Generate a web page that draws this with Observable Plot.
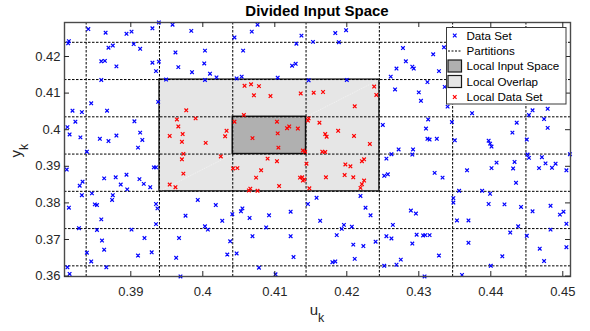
<!DOCTYPE html>
<html><head><meta charset="utf-8">
<script src="https://cdn.jsdelivr.net/npm/d3@7"></script>
<script src="https://cdn.jsdelivr.net/npm/@observablehq/plot@0.6"></script>
<style>
html,body{margin:0;padding:0;background:#fff;}
#chart{width:590px;height:331px;}
</style></head><body><div id="chart"></div>
<script>
const titleText = "Divided Input Space";
const xLabel = ["u", "k"];
const yLabel = ["y", "k"];
const legendLabels = ["Data Set", "Partitions", "Local Input Space", "Local Overlap", "Local Data Set"];

const xTicks = [0.39, 0.40, 0.41, 0.42, 0.43, 0.44, 0.45];
const xTickLabels = ["0.39", "0.4", "0.41", "0.42", "0.43", "0.44", "0.45"];
const yTicks = [0.36, 0.37, 0.38, 0.39, 0.40, 0.41, 0.42];
const yTickLabels = ["0.36", "0.37", "0.38", "0.39", "0.4", "0.41", "0.42"];
const xDomain = [0.38079, 0.45107];
const yDomain = [0.35989, 0.42929];

const partitionsU = [0.3838, 0.39398, 0.40416, 0.41434, 0.42452, 0.4347, 0.44488];
const partitionsY = [0.3628, 0.37298, 0.38316, 0.39334, 0.40352, 0.4137, 0.42388];
// indices into the partition arrays
const localInputSpace = {u: [2, 3], y: [3, 4]};
const localOverlap = {u: [1, 4], y: [2, 5]};

const dataSetU = [0.3841,0.3865,0.3894,0.3901,0.3930,0.3939,0.3958,0.3984,0.3814,0.3813,0.3875,0.3869,0.3904,0.3913,0.3962,0.3859,0.3864,0.3880,0.3930,0.3939,0.3966,0.3935,0.3985,0.3859,0.3949,0.3845,0.3938,0.3819,0.3832,0.3867,0.3823,0.3812,0.3905,0.3815,0.3830,0.3857,0.3869,0.3880,0.3913,0.3916,0.3910,
0.4044,0.4068,0.4076,0.4137,0.4130,0.4153,0.4003,0.4056,0.4002,0.4010,0.4019,0.4003,0.4054,0.4047,0.4104,0.4129,0.4124,0.4147,
0.4184,0.4199,0.4189,0.4278,0.4335,0.4320,0.4282,0.4269,0.4291,0.4293,0.4328,0.4261,0.4200,0.4312,0.4336,0.4267,0.4300,0.4303,0.4340,0.4313,0.4250,0.4310,0.4312,0.4315,0.4325,0.4272,0.4292,
0.4374,0.4458,0.4453,0.4479,0.4474,0.4436,0.4346,0.4430,0.4479,0.4350,0.4397,0.4399,0.4401,0.4450,
0.3839,0.3811,0.3833,0.3829,0.3863,0.3879,0.3894,0.3886,0.3895,0.3912,0.3918,0.3927,0.3932,0.3935,0.3832,0.3846,0.3875,0.3874,0.3850,0.3853,0.3814,0.3935,0.3937,0.3976,0.3859,0.3828,0.3853,0.3901,0.3935,0.3919,0.3967,0.3860,0.3863,0.3839,0.3910,0.3929,0.3963,0.3845,0.3812,0.3866,0.3815,0.3969,
0.3993,0.4018,0.4027,0.4003,0.4007,0.4041,0.4055,0.4053,0.4065,0.4092,0.4122,0.4088,0.4069,0.4038,0.4122,0.4034,0.4047,0.4126,0.4078,0.4101,0.4146,0.4158,0.4163,
0.4262,0.4291,0.4255,0.4252,0.4257,0.4322,0.4333,0.4219,0.4226,0.4233,0.4289,0.4296,0.4196,0.4193,0.4207,0.4264,0.4186,0.4255,0.4262,0.4297,0.4306,0.4309,0.4315,0.4240,0.4291,0.4209,0.4223,0.4211,0.4180,0.4184,0.4275,0.4269,0.4252,0.4328,0.4308,
0.4451,0.4453,0.4471,0.4476,0.4490,0.4510,0.4505,0.4485,0.4467,0.4433,0.4408,0.4401,0.4431,0.4367,0.4435,0.4356,0.4388,0.4399,0.4348,0.4348,0.4397,0.4419,0.4442,0.4458,0.4483,0.4501,0.4496,0.4505,0.4353,0.4369,0.4438,0.4427,0.4483,0.4450,0.4369,0.4468,0.4505,0.4416,0.4474,0.4400,0.4360];
const dataSetY = [0.4275,0.4265,0.4262,0.4268,0.4277,0.4293,0.4287,0.4270,0.4242,0.4236,0.4230,0.4224,0.4234,0.4221,0.4211,0.4187,0.4188,0.4173,0.4183,0.4186,0.4171,0.4160,0.4157,0.4136,0.4137,0.4072,0.4076,0.4052,0.4048,0.4052,0.4022,0.4007,0.4023,0.3987,0.3979,0.3975,0.3969,0.3984,0.3992,0.3972,0.3951,
0.4252,0.4268,0.4287,0.4257,0.4235,0.4240,0.4216,0.4216,0.4181,0.4153,0.4143,0.4136,0.4145,0.4140,0.4142,0.4180,0.4175,0.4135,
0.4264,0.4272,0.4239,0.4223,0.4225,0.4206,0.4187,0.4167,0.4172,0.4167,0.4160,0.4145,0.4136,0.4130,0.4117,0.4110,0.4102,0.4079,0.4063,0.4028,0.4013,0.4003,0.3975,0.3973,0.3975,0.3946,0.3946,
0.4045,0.4053,0.4040,0.4057,0.4029,0.4019,0.4021,0.3992,0.4005,0.3971,0.3970,0.3962,0.3954,0.3973,
0.3940,0.3891,0.3858,0.3847,0.3867,0.3870,0.3877,0.3850,0.3837,0.3865,0.3852,0.3843,0.3897,0.3897,0.3821,0.3826,0.3821,0.3808,0.3796,0.3794,0.3787,0.3797,0.3785,0.3765,0.3755,0.3731,0.3726,0.3727,0.3742,0.3704,0.3704,0.3697,0.3672,0.3664,0.3656,0.3665,0.3650,0.3640,0.3624,0.3624,0.3606,0.3599,
0.3808,0.3794,0.3751,0.3736,0.3727,0.3769,0.3785,0.3777,0.3759,0.3766,0.3776,0.3733,0.3709,0.3695,0.3709,0.3659,0.3662,0.3652,0.3623,0.3605,0.3797,0.3814,0.3751,
0.3933,0.3932,0.3921,0.3874,0.3878,0.3882,0.3869,0.3819,0.3787,0.3766,0.3779,0.3771,0.3740,0.3729,0.3735,0.3740,0.3712,0.3709,0.3703,0.3713,0.3711,0.3712,0.3712,0.3694,0.3689,0.3686,0.3682,0.3647,0.3638,0.3640,0.3645,0.3631,0.3628,0.3656,0.3599,
0.3932,0.3923,0.3925,0.3908,0.3907,0.3933,0.3889,0.3896,0.3895,0.3912,0.3910,0.3895,0.3894,0.3889,0.3855,0.3833,0.3833,0.3825,0.3813,0.3801,0.3797,0.3796,0.3789,0.3777,0.3792,0.3776,0.3768,0.3743,0.3752,0.3752,0.3736,0.3719,0.3727,0.3710,0.3691,0.3675,0.3679,0.3654,0.3641,0.3628,0.3603];

const localDataU = [0.3977,0.3964,0.3990,0.3966,0.3954,0.3972,0.3971,0.4004,0.4033,0.4031,0.3973,0.3971,0.4025,0.3973,0.3954,0.3962,
0.4058,0.4067,0.4078,0.4071,0.4094,0.4136,0.4154,0.4057,0.4044,0.4103,0.4104,0.4069,0.4117,0.4120,0.4132,0.4147,0.4146,0.4162,0.4105,0.4139,0.4142,
0.4042,0.4048,0.4090,0.4103,0.4144,0.4081,0.4074,0.4135,0.4138,0.4141,0.4139,0.4106,0.4148,0.4066,0.4064,0.4076,
0.4166,0.4170,0.4198,0.4205,0.4221,0.4224,0.4171,0.4197,0.4209,0.4224,0.4221,0.4219,
0.4167,0.4238,0.4241,0.4211,0.4188,0.4170,0.4172,0.4210,0.4232];
const localDataY = [0.4053,0.4028,0.4031,0.4009,0.3983,0.3988,0.3967,0.3964,0.3997,0.3982,0.3934,0.3919,0.3927,0.3880,0.3850,0.3843,
0.4120,0.4124,0.4119,0.4094,0.4092,0.4099,0.4101,0.4040,0.4022,0.4022,0.3990,0.3977,0.4004,0.4009,0.4003,0.4031,0.4025,0.4019,0.3951,0.3943,0.3940,
0.3894,0.3895,0.3921,0.3914,0.3907,0.3889,0.3869,0.3869,0.3870,0.3864,0.3861,0.3846,0.3840,0.3839,0.3834,0.3833,
0.3940,0.3939,0.3905,0.3900,0.3914,0.3919,0.3870,0.3876,0.3870,0.3861,0.3851,0.3841,
0.4103,0.4118,0.4095,0.4064,0.3997,0.3988,0.3981,0.3983,0.3961];

const dataSet = dataSetU.map((u, i) => ({u, y: dataSetY[i]}));
const localData = localDataU.map((u, i) => ({u, y: localDataY[i]}));
const toRect = r => ({x1: partitionsU[r.u[0]], x2: partitionsU[r.u[1]], y1: partitionsY[r.y[0]], y2: partitionsY[r.y[1]]});
const overlapRect = toRect(localOverlap);
const inputRect = toRect(localInputSpace);

const W = 590, H = 331, mL = 64, mR = 20, mT = 22, mB = 55;
const fw = W - mL - mR, fh = H - mT - mB;
const axisColor = "#262626";
const blue = "#0000ff", red = "#ff0000";
const lightGray = "#e6e6e6", darkGray = "#b0b0b0";
const dash = "2.5,1.5";
const R = 1.8;

const svg = Plot.plot({
  width: W, height: H,
  marginLeft: mL, marginRight: mR, marginTop: mT, marginBottom: mB,
  x: {domain: xDomain},
  y: {domain: yDomain},
  style: {fontFamily: "'Liberation Sans', Arial, Helvetica, sans-serif", background: "white", overflow: "visible"},
  marks: [
    Plot.rect([overlapRect], {x1: "x1", x2: "x2", y1: "y1", y2: "y2", fill: lightGray, stroke: "#3a3a3a", strokeWidth: 1.5}),
    Plot.link([overlapRect], {x1: "x1", y1: "y1", x2: "x2", y2: "y2", stroke: "white", strokeOpacity: 0.7, strokeWidth: 0.7, strokeDasharray: "1,1"}),
    Plot.rect([inputRect], {x1: "x1", x2: "x2", y1: "y1", y2: "y2", fill: darkGray, stroke: "#1a1a1a", strokeWidth: 1.5}),
    Plot.ruleX(partitionsU, {x: d => d, stroke: "black", strokeWidth: 1, strokeDasharray: dash}),
    Plot.ruleY(partitionsY, {y: d => d, stroke: "black", strokeWidth: 1, strokeDasharray: dash}),
    Plot.dot(dataSet, {x: "u", y: "y", symbol: "times", r: R, stroke: blue, strokeWidth: 1.2}),
    Plot.dot(localData, {x: "u", y: "y", symbol: "times", r: R, stroke: red, strokeWidth: 1.2}),
    Plot.frame({stroke: "#4a4a4a", strokeWidth: 1.4}),
    Plot.tickX(xTicks, {x: d => d, insetTop: fh - 5, stroke: axisColor}),
    Plot.tickX(xTicks, {x: d => d, insetBottom: fh - 5, stroke: axisColor}),
    Plot.tickY(yTicks, {y: d => d, insetRight: fw - 5, stroke: axisColor}),
    Plot.tickY(yTicks, {y: d => d, insetLeft: fw - 5, stroke: axisColor}),
    Plot.axisX(xTicks, {tickSize: 0, tickPadding: 10, tickFormat: d => xTickLabels[xTicks.indexOf(d)], fontSize: 13, color: axisColor, label: null}),
    Plot.axisY(yTicks, {tickSize: 0, tickPadding: 4, tickFormat: d => yTickLabels[yTicks.indexOf(d)], fontSize: 13, color: axisColor, label: null})
  ]
});

const s = d3.select(svg);
const cx = mL + fw / 2;
// title
s.append("text").attr("x", cx).attr("y", 16).attr("text-anchor", "middle")
  .attr("font-size", 15).attr("font-weight", "bold").attr("fill", "#000").text(titleText);
// x label
const xl = s.append("text").attr("x", cx).attr("y", 315).attr("text-anchor", "middle")
  .attr("font-size", 15).attr("fill", axisColor);
xl.append("tspan").text(xLabel[0]);
xl.append("tspan").attr("font-size", 12.5).attr("dy", 6.5).text(xLabel[1]);
// y label
const yl = s.append("text").attr("transform", `translate(21,${mT + fh / 2 + 1.5}) rotate(-90)`)
  .attr("text-anchor", "middle").attr("font-size", 15).attr("fill", axisColor);
yl.append("tspan").text(yLabel[0]);
yl.append("tspan").attr("font-size", 12.5).attr("dy", 7).text(yLabel[1]);

// legend
const lg = s.append("g").attr("font-size", 11.6).attr("fill", "#000").attr("text-anchor", "start");
const lx = 446.5, ly = 27.5, lw = 119.5, lh = 76.5;
lg.append("rect").attr("x", lx).attr("y", ly).attr("width", lw).attr("height", lh)
  .attr("fill", "white").attr("stroke", "#3a3a3a").attr("stroke-width", 1);
const rowY = [35.5, 51, 66, 81.5, 97];
const sx0 = lx + 1.5, sx1 = lx + 15, scx = (sx0 + sx1) / 2;
const sym = d3.symbol().type(d3.symbolTimes).size(Math.PI * R * R);
lg.append("path").attr("d", sym()).attr("transform", `translate(${scx},${rowY[0]})`)
  .attr("fill", "none").attr("stroke", blue).attr("stroke-width", 1.2);
lg.append("line").attr("x1", sx0).attr("x2", sx1).attr("y1", rowY[1]).attr("y2", rowY[1])
  .attr("stroke", "black").attr("stroke-dasharray", "2,1.5");
lg.append("rect").attr("x", sx0).attr("y", rowY[2] - 6).attr("width", sx1 - sx0).attr("height", 12)
  .attr("fill", darkGray).attr("stroke", "#1a1a1a").attr("stroke-width", 1.2);
lg.append("rect").attr("x", sx0).attr("y", rowY[3] - 6).attr("width", sx1 - sx0).attr("height", 12)
  .attr("fill", lightGray).attr("stroke", "#1a1a1a").attr("stroke-width", 1.2);
lg.append("path").attr("d", sym()).attr("transform", `translate(${scx},${rowY[4]})`)
  .attr("fill", "none").attr("stroke", red).attr("stroke-width", 1.2);
legendLabels.forEach((t, i) => {
  lg.append("text").attr("x", lx + 20).attr("y", rowY[i] + 4.3).attr("text-anchor", "start").text(t);
});

document.getElementById("chart").appendChild(svg);
</script></body></html>
